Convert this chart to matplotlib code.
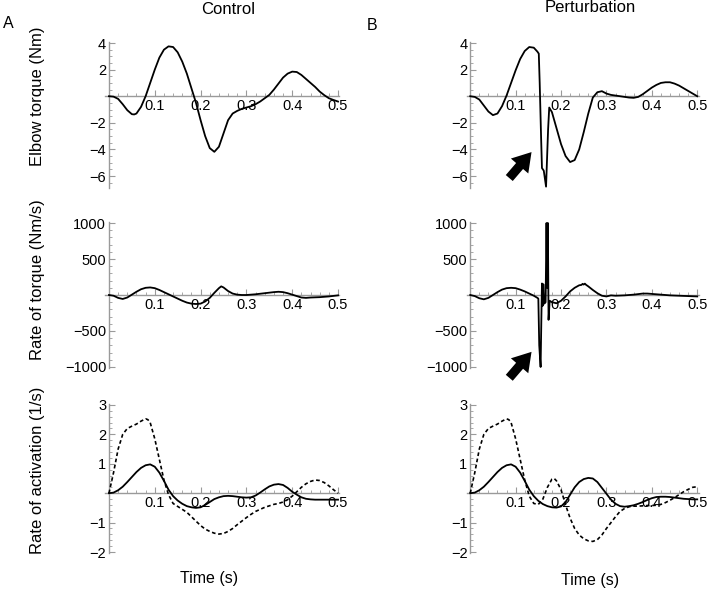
import numpy as np
import matplotlib
matplotlib.use("Agg")
import matplotlib.pyplot as plt
from matplotlib.ticker import MultipleLocator, FixedLocator

plt.rcParams["font.family"] = ["Liberation Sans", "DejaVu Sans"]

# ---- data: (time s, value) ----
ctrl_torque = [
    (0.00, 0.0), (0.01, -0.03), (0.02, -0.2), (0.03, -0.6), (0.04, -1.05), (0.05, -1.35),
    (0.055, -1.37), (0.06, -1.3), (0.07, -0.8), (0.08, 0.0), (0.09, 1.0), (0.10, 2.0),
    (0.11, 2.9), (0.12, 3.5), (0.13, 3.75), (0.14, 3.7), (0.15, 3.3), (0.16, 2.6),
    (0.17, 1.7), (0.18, 0.6), (0.19, -0.5), (0.20, -1.8), (0.21, -3.0), (0.22, -3.9),
    (0.23, -4.18), (0.24, -3.8), (0.25, -2.8), (0.26, -1.8), (0.27, -1.3), (0.28, -1.1),
    (0.29, -0.95), (0.30, -0.85), (0.31, -0.75), (0.32, -0.6), (0.33, -0.4), (0.34, -0.15),
    (0.35, 0.1), (0.36, 0.5), (0.37, 0.95), (0.38, 1.4), (0.39, 1.7), (0.40, 1.85),
    (0.41, 1.82), (0.42, 1.6), (0.43, 1.3), (0.44, 1.0), (0.45, 0.7), (0.46, 0.35),
    (0.47, 0.08), (0.48, -0.15), (0.49, -0.28), (0.50, -0.4),
]
pert_torque = [
    (0.00, 0.0), (0.01, -0.05), (0.02, -0.25), (0.03, -0.7), (0.04, -1.15), (0.05, -1.42),
    (0.06, -1.3), (0.07, -0.75), (0.08, 0.05), (0.09, 1.0), (0.10, 1.95), (0.11, 2.8),
    (0.12, 3.4), (0.13, 3.7), (0.14, 3.65), (0.148, 3.35), (0.151, 3.2), (0.153, 1.0),
    (0.156, -3.0), (0.158, -5.4), (0.162, -5.6), (0.167, -6.8), (0.1715, -2.5),
    (0.174, -0.85), (0.18, -1.2), (0.19, -2.4), (0.20, -3.6), (0.21, -4.5), (0.22, -4.95),
    (0.23, -4.8), (0.24, -4.0), (0.25, -2.7), (0.26, -1.3), (0.27, -0.1), (0.28, 0.3),
    (0.29, 0.38), (0.30, 0.2), (0.31, 0.1), (0.32, 0.05), (0.33, 0.0), (0.34, -0.05),
    (0.35, -0.1), (0.36, -0.12), (0.37, -0.05), (0.38, 0.15), (0.39, 0.4), (0.40, 0.65),
    (0.41, 0.85), (0.42, 1.0), (0.43, 1.05), (0.44, 1.05), (0.45, 0.95), (0.46, 0.8),
    (0.47, 0.6), (0.48, 0.4), (0.49, 0.2), (0.50, 0.0),
]
ctrl_rate = [
    (0.00, 0), (0.01, -10), (0.02, -40), (0.03, -55), (0.04, -35), (0.05, 5), (0.06, 45),
    (0.07, 80), (0.08, 100), (0.09, 105), (0.10, 95), (0.11, 70), (0.12, 40), (0.13, 10),
    (0.14, -20), (0.15, -50), (0.16, -80), (0.17, -105), (0.18, -120), (0.19, -125),
    (0.20, -120), (0.21, -90), (0.22, -40), (0.23, 30), (0.24, 95), (0.245, 120),
    (0.25, 105), (0.26, 55), (0.27, 20), (0.28, 5), (0.29, 0), (0.30, 0), (0.32, 10),
    (0.34, 25), (0.36, 40), (0.37, 45), (0.38, 40), (0.39, 25), (0.40, 5), (0.41, -15),
    (0.42, -35), (0.43, -40), (0.44, -35), (0.46, -30), (0.48, -20), (0.50, -5),
]
pert_rate = [
    (0.00, 0), (0.01, -15), (0.02, -45), (0.03, -60), (0.04, -40), (0.05, 0), (0.06, 40),
    (0.07, 75), (0.08, 95), (0.09, 100), (0.10, 95), (0.11, 75), (0.12, 50), (0.13, 20),
    (0.14, -10), (0.148, -40), (0.150, -50), (0.152, -700), (0.155, -1000), (0.157, -200),
    (0.158, 160), (0.1595, -150), (0.161, 150), (0.163, -120), (0.166, -100), (0.168, 1000),
    (0.1695, 100), (0.171, 1000), (0.1725, -345), (0.175, -80), (0.18, -100), (0.19, -115),
    (0.20, -80), (0.21, -20), (0.22, 50), (0.23, 100), (0.24, 135), (0.245, 140),
    (0.2475, 155), (0.25, 145), (0.2525, 158), (0.255, 142), (0.26, 120), (0.27, 70),
    (0.28, 25), (0.29, -10), (0.30, -20), (0.31, -5), (0.32, -10), (0.34, -5), (0.36, 5),
    (0.38, 20), (0.39, 20), (0.40, 15), (0.42, 5), (0.44, -5), (0.46, -10), (0.48, -15),
    (0.50, -20),
]
ctrl_act_solid = [
    (0.00, 0.0), (0.01, 0.02), (0.02, 0.1), (0.03, 0.22), (0.04, 0.38), (0.05, 0.55),
    (0.06, 0.72), (0.07, 0.86), (0.08, 0.95), (0.09, 0.98), (0.10, 0.9), (0.11, 0.7),
    (0.12, 0.42), (0.13, 0.12), (0.14, -0.1), (0.15, -0.25), (0.16, -0.36), (0.17, -0.44),
    (0.18, -0.48), (0.19, -0.5), (0.20, -0.48), (0.21, -0.4), (0.22, -0.3), (0.23, -0.2),
    (0.24, -0.14), (0.25, -0.1), (0.26, -0.09), (0.27, -0.1), (0.28, -0.12), (0.29, -0.14),
    (0.30, -0.15), (0.31, -0.14), (0.32, -0.08), (0.33, 0.02), (0.34, 0.13), (0.35, 0.23),
    (0.36, 0.29), (0.37, 0.31), (0.38, 0.28), (0.39, 0.18), (0.40, 0.05), (0.41, -0.05),
    (0.42, -0.14), (0.43, -0.19), (0.44, -0.21), (0.45, -0.22), (0.46, -0.22),
    (0.47, -0.22), (0.48, -0.22), (0.49, -0.22), (0.50, -0.22),
]
ctrl_act_dashed = [
    (0.00, 0.0), (0.01, 0.7), (0.02, 1.5), (0.03, 2.0), (0.04, 2.2), (0.05, 2.28),
    (0.06, 2.35), (0.07, 2.45), (0.08, 2.53), (0.085, 2.5), (0.09, 2.4), (0.10, 1.85),
    (0.11, 1.15), (0.12, 0.45), (0.13, -0.05), (0.14, -0.35), (0.15, -0.45), (0.16, -0.55),
    (0.17, -0.65), (0.18, -0.8), (0.19, -0.95), (0.20, -1.1), (0.21, -1.22), (0.22, -1.3),
    (0.23, -1.36), (0.24, -1.39), (0.25, -1.37), (0.26, -1.3), (0.27, -1.2), (0.28, -1.07),
    (0.29, -0.95), (0.30, -0.83), (0.31, -0.72), (0.32, -0.62), (0.33, -0.55), (0.34, -0.48),
    (0.35, -0.43), (0.36, -0.38), (0.37, -0.35), (0.38, -0.3), (0.39, -0.22), (0.40, -0.1),
    (0.41, 0.05), (0.42, 0.2), (0.43, 0.32), (0.44, 0.4), (0.45, 0.45), (0.46, 0.43),
    (0.47, 0.36), (0.48, 0.25), (0.49, 0.12), (0.50, 0.0),
]
pert_act_solid = [
    (0.00, 0.0), (0.01, 0.02), (0.02, 0.1), (0.03, 0.22), (0.04, 0.38), (0.05, 0.55),
    (0.06, 0.72), (0.07, 0.86), (0.08, 0.95), (0.09, 0.98), (0.10, 0.9), (0.11, 0.7),
    (0.12, 0.42), (0.13, 0.12), (0.14, -0.1), (0.15, -0.26), (0.16, -0.37), (0.17, -0.44),
    (0.18, -0.48), (0.19, -0.49), (0.20, -0.45), (0.21, -0.3), (0.22, -0.05), (0.23, 0.2),
    (0.24, 0.38), (0.25, 0.48), (0.26, 0.52), (0.27, 0.5), (0.28, 0.38), (0.29, 0.18),
    (0.30, -0.02), (0.31, -0.22), (0.32, -0.36), (0.33, -0.44), (0.34, -0.46), (0.35, -0.44),
    (0.36, -0.41), (0.37, -0.36), (0.38, -0.3), (0.39, -0.23), (0.40, -0.17), (0.41, -0.13),
    (0.42, -0.12), (0.43, -0.12), (0.44, -0.13), (0.45, -0.15), (0.46, -0.17), (0.47, -0.19),
    (0.48, -0.2), (0.49, -0.21), (0.50, -0.21),
]
pert_act_dashed = [
    (0.00, 0.0), (0.01, 0.7), (0.02, 1.5), (0.03, 2.0), (0.04, 2.2), (0.05, 2.28),
    (0.06, 2.35), (0.07, 2.45), (0.08, 2.53), (0.085, 2.5), (0.09, 2.4), (0.10, 1.85),
    (0.11, 1.15), (0.12, 0.45), (0.13, -0.1), (0.14, -0.35), (0.15, -0.38), (0.16, -0.2),
    (0.17, 0.2), (0.18, 0.48), (0.185, 0.5), (0.19, 0.42), (0.20, 0.12), (0.21, -0.4),
    (0.22, -0.85), (0.23, -1.2), (0.24, -1.42), (0.25, -1.55), (0.26, -1.62), (0.27, -1.64),
    (0.28, -1.58), (0.29, -1.42), (0.30, -1.2), (0.31, -1.0), (0.32, -0.8), (0.33, -0.62),
    (0.34, -0.52), (0.35, -0.46), (0.36, -0.44), (0.37, -0.44), (0.38, -0.43), (0.39, -0.42),
    (0.40, -0.42), (0.41, -0.41), (0.42, -0.38), (0.43, -0.32), (0.44, -0.24), (0.45, -0.15),
    (0.46, -0.05), (0.47, 0.05), (0.48, 0.13), (0.49, 0.2), (0.50, 0.22),
]

col_titles = ["Control", "Perturbation"]
row_labels = ["Elbow torque (Nm)", "Rate of torque (Nm/s)", "Rate of activation (1/s)"]
x_ticks = [0.1, 0.2, 0.3, 0.4, 0.5]
y_ticks = [[-6, -4, -2, 2, 4], [-1000, -500, 500, 1000], [-2, -1, 1, 2, 3]]
y_minor = [0.5, 100, 0.2]
y_lims = [(-6.9, 4.1), (-1010, 1010), (-2.02, 3.05)]

W, H = 708, 591
fig = plt.figure(figsize=(W / 100, H / 100), dpi=100)

# pixel boxes (left, right) per column, (top, bottom) per row
col_px = [(105.3, 339.4), (466.6, 698.6)]
row_px = [(41.7, 188.0), (222.3, 367.7), (403.5, 552.6)]

AX_GRAY = "#9a9a9a"


def make_ax(r, c):
    l, rr = col_px[c]
    t, b = row_px[r]
    ax = fig.add_axes([l / W, 1 - b / H, (rr - l) / W, (b - t) / H])
    ax.set_xlim(-0.008, 0.503)
    ax.set_ylim(*y_lims[r])
    for s in ["top", "right"]:
        ax.spines[s].set_visible(False)
    ax.spines["left"].set_position(("data", 0))
    ax.spines["bottom"].set_position(("data", 0))
    for s in ["left", "bottom"]:
        ax.spines[s].set_color(AX_GRAY)
        ax.spines[s].set_linewidth(1.0)
        ax.spines[s].set_zorder(1)
    ax.xaxis.set_major_locator(FixedLocator(x_ticks))
    ax.xaxis.set_minor_locator(MultipleLocator(0.02))
    ax.yaxis.set_major_locator(FixedLocator(y_ticks[r]))
    ax.yaxis.set_minor_locator(MultipleLocator(y_minor[r]))
    ax.set_xticklabels([f"{v:.1f}" for v in x_ticks])
    ax.set_yticklabels([f"{v:g}".replace("-", "\u2212") for v in y_ticks[r]])
    ax.tick_params(which="both", direction="in", color=AX_GRAY, labelsize=10.5,
                   labelcolor="black")
    ax.tick_params(which="major", length=4, width=0.8, pad=2)
    ax.tick_params(which="minor", length=2, width=0.6)
    ax.patch.set_visible(False)
    return ax


def draw(ax, pts, **kw):
    t = [p[0] for p in pts]
    v = [p[1] for p in pts]
    ax.plot(t, v, color="black", zorder=3, clip_on=False, **kw)


for r in range(3):
    for c in range(2):
        ax = make_ax(r, c)
        if r == 0:
            draw(ax, [ctrl_torque, pert_torque][c], lw=1.3)
        elif r == 1:
            draw(ax, [ctrl_rate, pert_rate][c], lw=1.3)
        else:
            draw(ax, [ctrl_act_solid, pert_act_solid][c], lw=1.3)
            draw(ax, [ctrl_act_dashed, pert_act_dashed][c], lw=1.2, dashes=(2.2, 1.6))
        if c == 1 and r < 2:
            head_y = -4.2 if r == 0 else -790
            tail_y = -6.15 if r == 0 else -1150
            ax.annotate("", xy=(0.135, head_y), xytext=(0.086, tail_y),
                        annotation_clip=False,
                        arrowprops=dict(arrowstyle="simple,head_length=0.6,head_width=0.75,tail_width=0.3",
                                        mutation_scale=22, color="black", lw=0,
                                        shrinkA=0, shrinkB=0))

# column titles, panel letters, axis labels
fig.text(228 / W, 1 - 9 / H, col_titles[0], ha="center", va="center", fontsize=12)
fig.text(590 / W, 1 - 8 / H, col_titles[1], ha="center", va="center", fontsize=12)
fig.text(8 / W, 1 - 24 / H, "A", ha="center", va="center", fontsize=11.5)
fig.text(372 / W, 1 - 25 / H, "B", ha="center", va="center", fontsize=11.5)
for lab, yc in zip(row_labels, [96, 280, 470]):
    fig.text(38 / W, 1 - yc / H, lab, ha="center", va="center", rotation=90, fontsize=12)
fig.text(209 / W, 1 - 579 / H, "Time (s)", ha="center", va="center", fontsize=11.5)
fig.text(590 / W, 1 - 580 / H, "Time (s)", ha="center", va="center", fontsize=11.5)

fig.savefig("out.png", dpi=100, facecolor="white")
